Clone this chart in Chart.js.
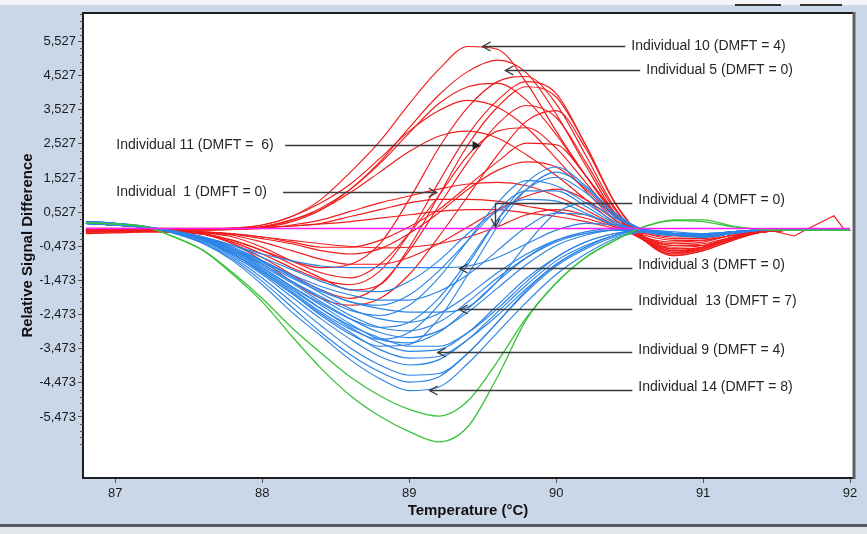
<!DOCTYPE html>
<html>
<head>
<meta charset="utf-8">
<script src="https://cdn.jsdelivr.net/npm/chart.js@4.4.1/dist/chart.umd.min.js"></script>
<style>
  html, body { margin: 0; padding: 0; background: #c9d7e8; }
</style>
</head>
<body>
<canvas id="hrmChart" width="867" height="534"></canvas>
<script>
// temperature grid shared by all curves (deg C)
var temps = [86.8, 87.0, 87.2, 87.4, 87.6, 87.8, 88.0, 88.2, 88.4, 88.6, 88.8, 89.0, 89.2, 89.4,
  89.6, 89.8, 90.0, 90.2, 90.4, 90.6, 90.8, 91.0, 91.2, 91.4, 91.6, 91.8, 92.0];

var xTicks = [87, 88, 89, 90, 91, 92];
var yTicks = [5.527, 4.527, 3.527, 2.527, 1.527, 0.527, -0.473, -1.473, -2.473, -3.473, -4.473, -5.473];

// red curves (relative signal difference)
var redCurves = [
  [0, 0, 0, 0, 0.02, 0.05, 0.15, 0.4, 0.9, 1.7, 2.6, 3.7, 4.7, 5.38, 5.3, 4.3, 2.9, 1.6, 0.45, -0.3, -0.65, -0.5, -0.25, -0.05, 0, 0, 0],
  [0, 0, 0, 0, 0, 0.02, 0.08, 0.25, 0.6, 1.2, 2.0, 3.0, 3.95, 4.65, 4.98, 4.6, 3.4, 1.9, 0.5, -0.25, -0.55, -0.5, -0.25, -0.05, 0, 0, 0],
  [-0.05, -0.02, 0, -0.02, -0.1, -0.3, -0.6, -0.9, -1.1, -1.0, -0.4, 0.9, 2.4, 3.6, 4.35, 4.5, 3.7, 2.2, 0.65, -0.3, -0.75, -0.6, -0.3, -0.05, 0, 0, 0],
  [-0.05, 0, 0, -0.02, -0.12, -0.35, -0.7, -1.1, -1.45, -1.6, -1.2, -0.1, 1.4, 2.8, 3.8, 4.35, 4.0, 2.5, 0.8, -0.2, -0.45, -0.45, -0.2, -0.05, 0, 0, 0],
  [0.02, 0.02, 0.02, 0.02, 0.03, 0.06, 0.15, 0.4, 0.8, 1.35, 2.1, 2.9, 3.5, 3.8, 3.6, 3.0, 2.1, 1.15, 0.3, -0.3, -0.6, -0.5, -0.25, -0.05, 0, 0, 0],
  [-0.05, -0.05, -0.03, -0.05, -0.12, -0.4, -0.8, -1.3, -1.75, -2.0, -1.6, -0.6, 0.7, 2.0, 3.1, 3.65, 3.3, 2.0, 0.6, -0.25, -0.5, -0.45, -0.2, -0.05, 0, 0, 0],
  [-0.05, -0.05, -0.03, -0.05, -0.12, -0.4, -0.9, -1.5, -2.0, -2.2, -2.0, -1.3, -0.2, 1.0, 2.2, 3.2, 3.5, 2.4, 0.8, -0.25, -0.65, -0.55, -0.25, -0.05, 0, 0, 0],
  [0, 0, 0, -0.02, -0.08, -0.2, -0.5, -0.9, -1.25, -1.4, -1.0, -0.1, 1.0, 2.2, 2.9, 3.0, 2.4, 1.4, 0.4, -0.2, -0.4, -0.35, -0.15, -0.05, 0, 0, 0],
  [0, 0, 0, 0, 0, 0.02, 0.05, 0.15, 0.3, 0.55, 0.8, 1.0, 1.2, 1.35, 1.4, 1.3, 1.0, 0.6, 0.15, -0.15, -0.3, -0.3, -0.15, -0.05, 0, 0, 0],
  [0.02, 0.02, 0.02, 0.02, 0.03, 0.05, 0.1, 0.3, 0.6, 1.1, 1.7, 2.3, 2.75, 2.9, 2.7, 2.2, 1.6, 0.9, 0.2, -0.3, -0.6, -0.5, -0.25, -0.05, 0, 0, 0],
  [-0.02, -0.02, -0.02, -0.02, -0.05, -0.1, -0.2, -0.35, -0.5, -0.5, -0.3, 0.1, 0.6, 1.3, 2.0, 2.55, 2.5, 1.6, 0.5, -0.3, -0.7, -0.55, -0.25, -0.05, 0, 0, 0],
  [0, 0, 0, 0, 0.02, 0.04, 0.08, 0.12, 0.2, 0.4, 0.6, 0.8, 0.9, 0.9, 0.85, 0.7, 0.55, 0.35, 0.1, -0.1, -0.25, -0.25, -0.1, -0.05, 0, 0, 0],
  [0, 0, 0, -0.02, -0.06, -0.15, -0.35, -0.6, -0.85, -1.0, -1.0, -0.8, -0.4, 0.1, 0.6, 1.0, 1.2, 0.9, 0.3, -0.2, -0.35, -0.3, -0.15, -0.05, 0, 0, 0],
  [-0.05, -0.05, -0.03, -0.05, -0.12, -0.3, -0.6, -1.0, -1.4, -1.75, -1.6, -0.5, 1.0, 2.5, 3.6, 4.2, 3.9, 2.5, 0.8, -0.3, -0.75, -0.6, -0.3, -0.05, 0, 0, 0],
  [0.05, 0.05, 0.05, 0.05, 0.05, 0.06, 0.08, 0.12, 0.18, 0.25, 0.35, 0.45, 0.55, 0.6, 0.6, 0.5, 0.4, 0.25, 0.05, -0.1, -0.2, -0.2, -0.1, -0.05, 0, 0, 0],
  [-0.1, -0.08, -0.06, -0.06, -0.08, -0.12, -0.2, -0.3, -0.4, -0.48, -0.52, -0.5, -0.4, -0.2, 0.1, 0.45, 0.6, 0.45, 0.1, -0.25, -0.55, -0.5, -0.25, -0.05, 0, 0, 0],
  [0, 0, 0, -0.02, -0.05, -0.12, -0.25, -0.4, -0.6, -0.7, -0.55, -0.1, 0.5, 1.2, 1.75, 2.0, 1.85, 1.2, 0.4, -0.2, -0.45, -0.4, -0.2, -0.05, 0, 0, 0],
  [0, 0, 0, 0, 0.02, 0.04, 0.1, 0.3, 0.65, 1.2, 1.95, 2.85, 3.7, 4.2, 4.3, 3.8, 2.8, 1.6, 0.45, -0.3, -0.7, -0.55, -0.25, -0.05, 0, 0, 0]
];

// one red trace with a noisy end near 92 C
var noisyTemps = [91.3, 91.45, 91.62, 91.71, 91.89, 91.96, 92.0];
var noisyValues = [-0.05, 0.0, -0.17, 0.03, 0.42, 0.02, 0.0];

var blueCurves = [
  [0.25, 0.2, 0.12, -0.1, -0.4, -0.9, -1.6, -2.4, -3.1, -3.8, -4.35, -4.7, -4.6, -3.9, -3.0, -2.1, -1.3, -0.7, -0.25, -0.05, -0.15, -0.2, -0.1, 0, 0, 0, 0],
  [0.22, 0.18, 0.1, -0.08, -0.38, -0.85, -1.5, -2.25, -3.0, -3.65, -4.15, -4.45, -4.3, -3.6, -2.7, -1.8, -1.05, -0.55, -0.2, -0.05, -0.15, -0.2, -0.1, 0, 0, 0, 0],
  [0.25, 0.2, 0.1, -0.08, -0.35, -0.8, -1.4, -2.1, -2.8, -3.45, -3.95, -4.25, -4.2, -3.6, -2.7, -1.75, -1.0, -0.5, -0.15, 0, -0.1, -0.2, -0.1, 0, 0, 0, 0],
  [0.2, 0.15, 0.1, -0.05, -0.3, -0.75, -1.3, -1.95, -2.6, -3.2, -3.7, -3.95, -3.8, -3.2, -2.4, -1.6, -0.9, -0.45, -0.15, 0, -0.1, -0.15, -0.05, 0, 0, 0, 0],
  [0.25, 0.18, 0.1, -0.05, -0.3, -0.7, -1.25, -1.85, -2.45, -3.0, -3.5, -3.75, -3.7, -3.2, -2.5, -1.7, -1.0, -0.5, -0.15, 0, -0.1, -0.15, -0.05, 0, 0, 0, 0],
  [0.2, 0.15, 0.08, -0.05, -0.28, -0.65, -1.15, -1.7, -2.3, -2.85, -3.3, -3.55, -3.5, -3.0, -2.2, -1.4, -0.8, -0.35, -0.1, 0, -0.1, -0.15, -0.05, 0, 0, 0, 0],
  [0.2, 0.15, 0.08, -0.05, -0.28, -0.65, -1.1, -1.65, -2.2, -2.75, -3.2, -3.3, -3.0, -2.3, -1.5, -0.8, -0.3, -0.05, 0.05, 0, -0.1, -0.15, -0.05, 0, 0, 0, 0],
  [0.22, 0.16, 0.08, -0.05, -0.25, -0.6, -1.05, -1.55, -2.1, -2.6, -3.0, -3.15, -2.95, -2.4, -1.7, -1.0, -0.45, -0.15, 0, 0, -0.1, -0.15, -0.05, 0, 0, 0, 0],
  [0.2, 0.15, 0.08, -0.05, -0.25, -0.55, -1.0, -1.5, -2.0, -2.5, -2.85, -2.95, -2.7, -2.1, -1.4, -0.8, -0.35, -0.1, 0, 0, -0.1, -0.1, -0.05, 0, 0, 0, 0],
  [0.25, 0.18, 0.1, -0.03, -0.22, -0.5, -0.9, -1.35, -1.85, -2.3, -2.6, -2.7, -2.45, -1.9, -1.25, -0.7, -0.3, -0.1, 0, 0, -0.05, -0.1, -0.05, 0, 0, 0, 0],
  [0.2, 0.15, 0.08, -0.05, -0.3, -0.7, -1.2, -1.8, -2.4, -2.9, -3.2, -3.0, -2.2, -1.0, 0.3, 1.4, 1.85, 1.3, 0.5, 0, -0.15, -0.2, -0.1, 0, 0, 0, 0],
  [0.22, 0.16, 0.1, -0.05, -0.28, -0.65, -1.1, -1.65, -2.15, -2.6, -2.85, -2.7, -2.0, -0.9, 0.3, 1.2, 1.55, 1.1, 0.4, 0, -0.15, -0.2, -0.1, 0, 0, 0, 0],
  [0.2, 0.15, 0.08, -0.05, -0.25, -0.6, -1.0, -1.5, -1.95, -2.35, -2.5, -2.2, -1.4, -0.3, 0.8, 1.45, 1.3, 0.8, 0.25, -0.05, -0.15, -0.15, -0.05, 0, 0, 0, 0],
  [0.25, 0.18, 0.1, -0.03, -0.22, -0.5, -0.9, -1.35, -1.75, -2.1, -2.2, -1.9, -1.2, -0.3, 0.6, 1.15, 1.15, 0.7, 0.2, -0.05, -0.15, -0.15, -0.05, 0, 0, 0, 0],
  [0.2, 0.15, 0.08, -0.05, -0.25, -0.55, -0.95, -1.4, -1.8, -2.1, -2.3, -2.4, -2.4, -2.25, -1.5, -0.4, 0.5, 0.8, 0.35, 0, -0.15, -0.15, -0.05, 0, 0, 0, 0],
  [0.22, 0.16, 0.1, -0.03, -0.2, -0.45, -0.8, -1.15, -1.5, -1.75, -1.8, -1.5, -0.9, -0.1, 0.55, 0.9, 0.85, 0.5, 0.15, -0.05, -0.15, -0.15, -0.05, 0, 0, 0, 0],
  [0.25, 0.2, 0.1, -0.03, -0.2, -0.45, -0.7, -0.9, -1.05, -1.1, -1.1, -1.1, -1.1, -1.05, -0.8, -0.4, 0.0, 0.2, 0.15, 0, -0.1, -0.1, -0.05, 0, 0, 0, 0],
  [0.2, 0.15, 0.08, -0.05, -0.25, -0.55, -0.9, -1.3, -1.65, -1.9, -2.05, -2.05, -1.8, -1.3, -0.6, 0.1, 0.5, 0.45, 0.15, 0, -0.1, -0.15, -0.05, 0, 0, 0, 0],
  [0.2, 0.15, 0.08, -0.05, -0.3, -0.7, -1.25, -1.85, -2.5, -3.05, -3.4, -3.35, -2.6, -1.3, 0.1, 1.2, 1.7, 1.25, 0.45, 0, -0.15, -0.2, -0.1, 0, 0, 0, 0],
  [0.25, 0.2, 0.1, -0.05, -0.3, -0.7, -1.2, -1.75, -2.3, -2.8, -3.15, -3.4, -3.4, -3.0, -2.3, -1.5, -0.8, -0.35, -0.1, 0, -0.1, -0.15, -0.05, 0, 0, 0, 0]
];

var greenCurves = [
  [0.22, 0.18, 0.1, -0.2, -0.6, -1.3, -2.1, -3.1, -4.05, -4.85, -5.45, -5.9, -6.2, -5.75, -4.3, -2.6, -1.55, -0.8, -0.3, 0.1, 0.3, 0.3, 0.12, 0.02, 0, 0, 0],
  [0.22, 0.18, 0.1, -0.2, -0.6, -1.25, -2.0, -2.85, -3.6, -4.3, -4.85, -5.25, -5.45, -5.0, -3.85, -2.55, -1.55, -0.8, -0.3, 0.1, 0.28, 0.25, 0.1, 0.02, 0, 0, 0]
];

// magenta reference trace
var refTemps = [86.8, 92.0];
var refValues = [0.05, 0.05];

// callout labels: text position and arrow path in data units
var callouts = [
  { text: 'Individual 10 (DMFT = 4)', tx: 90.511, ty: 5.40, path: [[90.47, 5.40], [89.499, 5.40]], head: 'open' },
  { text: 'Individual 5 (DMFT = 0)', tx: 90.613, ty: 4.69, path: [[90.572, 4.69], [89.655, 4.69]], head: 'open' },
  { text: 'Individual 11 (DMFT =  6)', tx: 87.007, ty: 2.50, path: [[88.155, 2.50], [89.486, 2.50]], head: 'filled' },
  { text: 'Individual  1 (DMFT = 0)', tx: 87.007, ty: 1.12, path: [[88.141, 1.12], [89.187, 1.12]], head: 'open' },
  { text: 'Individual 4 (DMFT = 0)', tx: 90.559, ty: 0.885, path: [[90.518, 0.80], [89.587, 0.80], [89.587, 0.12]], head: 'open' },
  { text: 'Individual 3 (DMFT = 0)', tx: 90.559, ty: -1.02, path: [[90.518, -1.107], [89.343, -1.107]], head: 'open' },
  { text: 'Individual  13 (DMFT = 7)', tx: 90.559, ty: -2.074, path: [[90.518, -2.308], [89.343, -2.308]], head: 'open' },
  { text: 'Individual 9 (DMFT = 4)', tx: 90.559, ty: -3.51, path: [[90.518, -3.568], [89.194, -3.568]], head: 'open' },
  { text: 'Individual 14 (DMFT = 8)', tx: 90.559, ty: -4.593, path: [[90.518, -4.681], [89.139, -4.681]], head: 'open' }
];

var FONT = "'Liberation Sans', Arial, sans-serif";

function toPoints(xs, ys) {
  return xs.map(function (x, i) { return { x: x, y: ys[i] }; });
}

function traceSet(values, xs, color, width) {
  return {
    data: toPoints(xs, values),
    borderColor: color,
    borderWidth: width,
    pointRadius: 0,
    fill: false,
    cubicInterpolationMode: 'monotone'
  };
}

// first dataset ends up on top
var datasets = [];
datasets.push(traceSet(refValues, refTemps, '#ff1aff', 1.6));
greenCurves.forEach(function (c) { datasets.push(traceSet(c, temps, '#39c43b', 1.3)); });
blueCurves.forEach(function (c) { datasets.push(traceSet(c, temps, '#2b84e6', 1.15)); });
redCurves.forEach(function (c) { datasets.push(traceSet(c, temps, '#f11c1c', 1.15)); });
var noisySet = traceSet(noisyValues, noisyTemps, '#f11c1c', 1.15);
noisySet.cubicInterpolationMode = 'default';
noisySet.tension = 0;
datasets.push(noisySet);

function arrowHead(ctx, x0, y0, x1, y1, filled) {
  var dx = x1 - x0, dy = y1 - y0;
  var len = Math.sqrt(dx * dx + dy * dy) || 1;
  dx /= len; dy /= len;
  var bx = x1 - dx * 8, by = y1 - dy * 8;
  var px = -dy * 4.5, py = dx * 4.5;
  ctx.beginPath();
  ctx.moveTo(bx + px, by + py);
  ctx.lineTo(x1, y1);
  ctx.lineTo(bx - px, by - py);
  if (filled) { ctx.closePath(); ctx.fill(); } else { ctx.stroke(); }
}

var decor = {
  id: 'decor',
  beforeDraw: function (chart) {
    var ctx = chart.ctx, a = chart.chartArea;
    ctx.save();
    ctx.fillStyle = '#c9d7e8';
    ctx.fillRect(0, 0, chart.width, chart.height);
    ctx.fillStyle = '#f3f5f8';
    ctx.fillRect(0, 0, chart.width, 5);
    ctx.fillStyle = '#333';
    ctx.fillRect(735, 4, 46, 2);
    ctx.fillRect(800, 4, 42, 2);
    ctx.fillStyle = '#ffffff';
    ctx.fillRect(a.left, a.top, a.right - a.left, a.bottom - a.top);
    ctx.fillStyle = '#565b62';
    ctx.fillRect(0, 524, chart.width, 3);
    ctx.fillStyle = '#e3e6ea';
    ctx.fillRect(0, 527, chart.width, chart.height - 527);
    ctx.restore();
  },
  afterDatasetsDraw: function (chart) {
    var ctx = chart.ctx, a = chart.chartArea;
    var xs = chart.scales.x, ys = chart.scales.y;
    ctx.save();
    // plot frame
    ctx.strokeStyle = '#1e1e1e';
    ctx.lineWidth = 2;
    ctx.beginPath();
    ctx.moveTo(a.right, a.top);
    ctx.lineTo(a.left, a.top);
    ctx.lineTo(a.left, a.bottom);
    ctx.lineTo(a.right, a.bottom);
    ctx.stroke();
    ctx.strokeStyle = '#5c6169';
    ctx.lineWidth = 3;
    ctx.beginPath();
    ctx.moveTo(a.right + 1, a.top - 1);
    ctx.lineTo(a.right + 1, a.bottom + 1);
    ctx.stroke();

    // minor ticks on the y axis
    ctx.strokeStyle = '#555';
    ctx.lineWidth = 1;
    for (var k = -59; k <= 4; k++) {
      if (k % 5 === 0) continue;
      var py = Math.round(ys.getPixelForValue(5.527 + 0.2 * k)) + 0.5;
      ctx.beginPath();
      ctx.moveTo(a.left - 3, py);
      ctx.lineTo(a.left, py);
      ctx.stroke();
    }

    // callouts
    ctx.font = '14px ' + FONT;
    ctx.textBaseline = 'middle';
    ctx.textAlign = 'left';
    ctx.strokeStyle = '#3a3a3a';
    ctx.lineWidth = 1.4;
    callouts.forEach(function (c) {
      ctx.fillStyle = '#262626';
      ctx.fillText(c.text, xs.getPixelForValue(c.tx), ys.getPixelForValue(c.ty));
      var pts = c.path.map(function (p) {
        return [xs.getPixelForValue(p[0]), Math.round(ys.getPixelForValue(p[1])) + 0.5];
      });
      ctx.beginPath();
      ctx.moveTo(pts[0][0], pts[0][1]);
      for (var i = 1; i < pts.length; i++) ctx.lineTo(pts[i][0], pts[i][1]);
      ctx.stroke();
      var p0 = pts[pts.length - 2], p1 = pts[pts.length - 1];
      ctx.fillStyle = '#1e1e1e';
      arrowHead(ctx, p0[0], p0[1], p1[0], p1[1], c.head === 'filled');
    });
    ctx.restore();
  }
};

var ctx = document.getElementById('hrmChart').getContext('2d');
var hrmChart = new Chart(ctx, {
  type: 'line',
  data: { datasets: datasets },
  options: {
    responsive: false,
    animation: false,
    devicePixelRatio: 1,
    layout: { padding: { left: 0, right: 14, top: 13, bottom: 0 } },
    scales: {
      x: {
        type: 'linear',
        min: 86.78,
        max: 92.02,
        afterBuildTicks: function (scale) {
          scale.ticks = xTicks.map(function (v) { return { value: v }; });
        },
        afterFit: function (scale) { scale.height = 56; },
        border: { display: false },
        grid: { drawOnChartArea: false, drawTicks: true, tickLength: 5, color: '#555' },
        ticks: {
          color: '#1c1c1c',
          padding: 3,
          font: { family: FONT, size: 13 },
          maxRotation: 0,
          callback: function (v) { return String(v); }
        },
        title: {
          display: true,
          text: 'Temperature (°C)',
          color: '#111',
          font: { family: FONT, size: 15, weight: 'bold' },
          padding: { top: 0, bottom: 14 }
        }
      },
      y: {
        type: 'linear',
        min: -7.26,
        max: 6.36,
        afterBuildTicks: function (scale) {
          scale.ticks = yTicks.map(function (v) { return { value: v }; });
        },
        afterFit: function (scale) { scale.width = 83; },
        border: { display: false },
        grid: { drawOnChartArea: false, drawTicks: true, tickLength: 5, color: '#555' },
        ticks: {
          color: '#1c1c1c',
          padding: 2,
          font: { family: FONT, size: 13 },
          callback: function (v) { return v.toFixed(3).replace('.', ','); }
        },
        title: {
          display: true,
          text: 'Relative Signal Difference',
          color: '#111',
          font: { family: FONT, size: 15, weight: 'bold' },
          padding: { top: 19, bottom: 0 }
        }
      }
    },
    plugins: {
      legend: { display: false },
      tooltip: { enabled: false }
    }
  },
  plugins: [decor]
});
</script>
</body>
</html>
